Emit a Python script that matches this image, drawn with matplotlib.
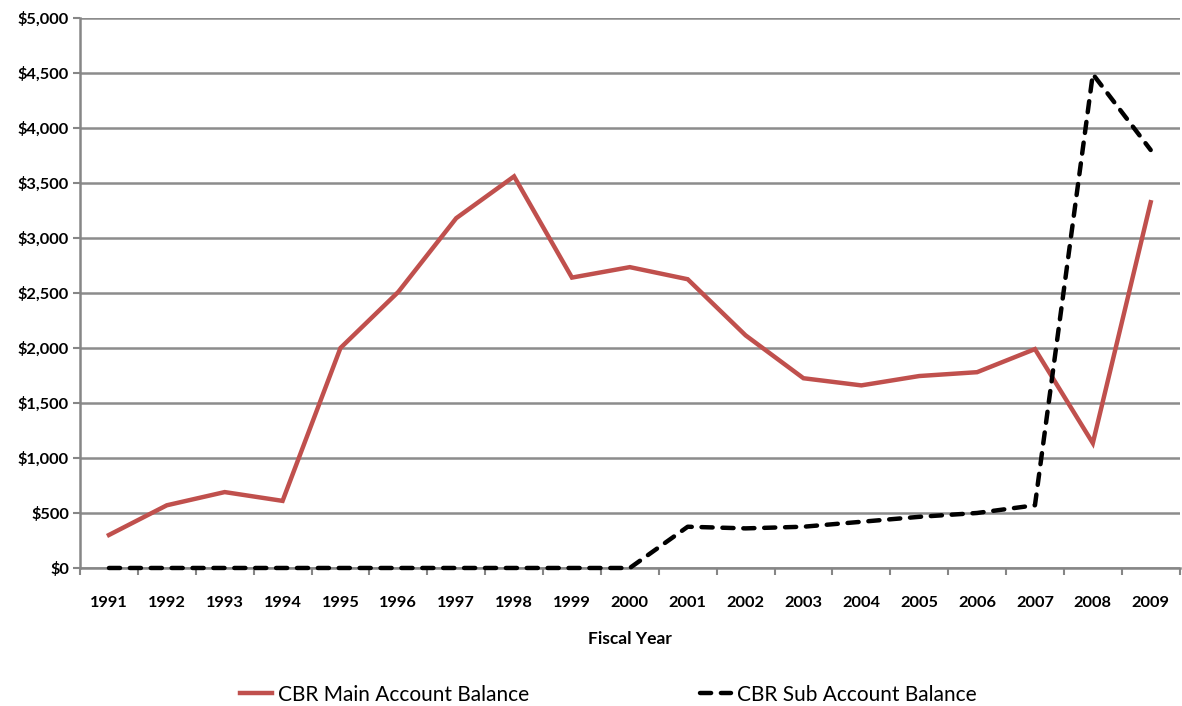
import matplotlib
matplotlib.use('Agg')
import matplotlib.pyplot as plt
from matplotlib.ticker import FuncFormatter, FixedLocator

years = [str(y) for y in range(1991, 2010)]
main_balance = [300, 570, 690, 610, 2000, 2510, 3180, 3560, 2640, 2735, 2625, 2115,
                1725, 1660, 1745, 1780, 1990, 1135, 3325]
sub_balance = [0, 0, 0, 0, 0, 0, 0, 0, 0, 0, 375, 360, 375, 420, 465, 500, 570, 4490, 3800]
y_ticks = list(range(0, 5001, 500))

plt.rcParams['font.family'] = ['Lato', 'DejaVu Sans']

fig = plt.figure(figsize=(11.82, 7.06), dpi=100)
ax = fig.add_axes([0.0677, 0.1955, 0.9303, 0.779])

x = list(range(len(years)))
ax.plot(x, main_balance, color='#C0504D', lw=3.2, solid_joinstyle='miter',
        label='CBR Main Account Balance', zorder=3)
ax.plot(x, sub_balance, color='black', lw=3.2, dashes=(2.5, 2.2),
        dash_capstyle='round', label='CBR Sub Account Balance', zorder=4,
        clip_on=False)

ax.set_xlim(-0.5, len(years) - 0.5)
ax.set_ylim(0, 5000)
ax.set_yticks(y_ticks)
ax.yaxis.set_major_formatter(FuncFormatter(lambda v, p: f'${v:,.0f}'))
ax.set_xticks(x)
ax.set_xticklabels(years)
ax.xaxis.set_minor_locator(FixedLocator([i + 0.5 for i in range(-1, len(years))]))
ax.tick_params(axis='x', which='major', length=0, pad=20, labelsize=11.8)
ax.tick_params(axis='x', which='minor', length=5, width=1.5, color='#868686')
ax.tick_params(axis='y', length=5, width=1.5, color='#868686', labelsize=11.8, pad=3)
for lab in ax.get_xticklabels() + ax.get_yticklabels():
    lab.set_fontweight('bold')

ax.grid(axis='y', color='#8c8c8c', lw=1.8, zorder=1)
ax.set_axisbelow(True)
for s in ['top', 'right']:
    ax.spines[s].set_visible(False)
ax.spines['left'].set_color('#868686')
ax.spines['left'].set_linewidth(1.8)
ax.spines['bottom'].set_color('#868686')
ax.spines['bottom'].set_linewidth(1.8)

ax.set_xlabel('Fiscal Year', fontsize=12.5, fontweight='bold', labelpad=15)

fig.legend(loc='center', bbox_to_anchor=(0.515, 0.016), ncol=2, frameon=False,
           fontsize=15, handlelength=1.5, handletextpad=0.3, columnspacing=8.2)

fig.savefig('out.png', dpi=100)
